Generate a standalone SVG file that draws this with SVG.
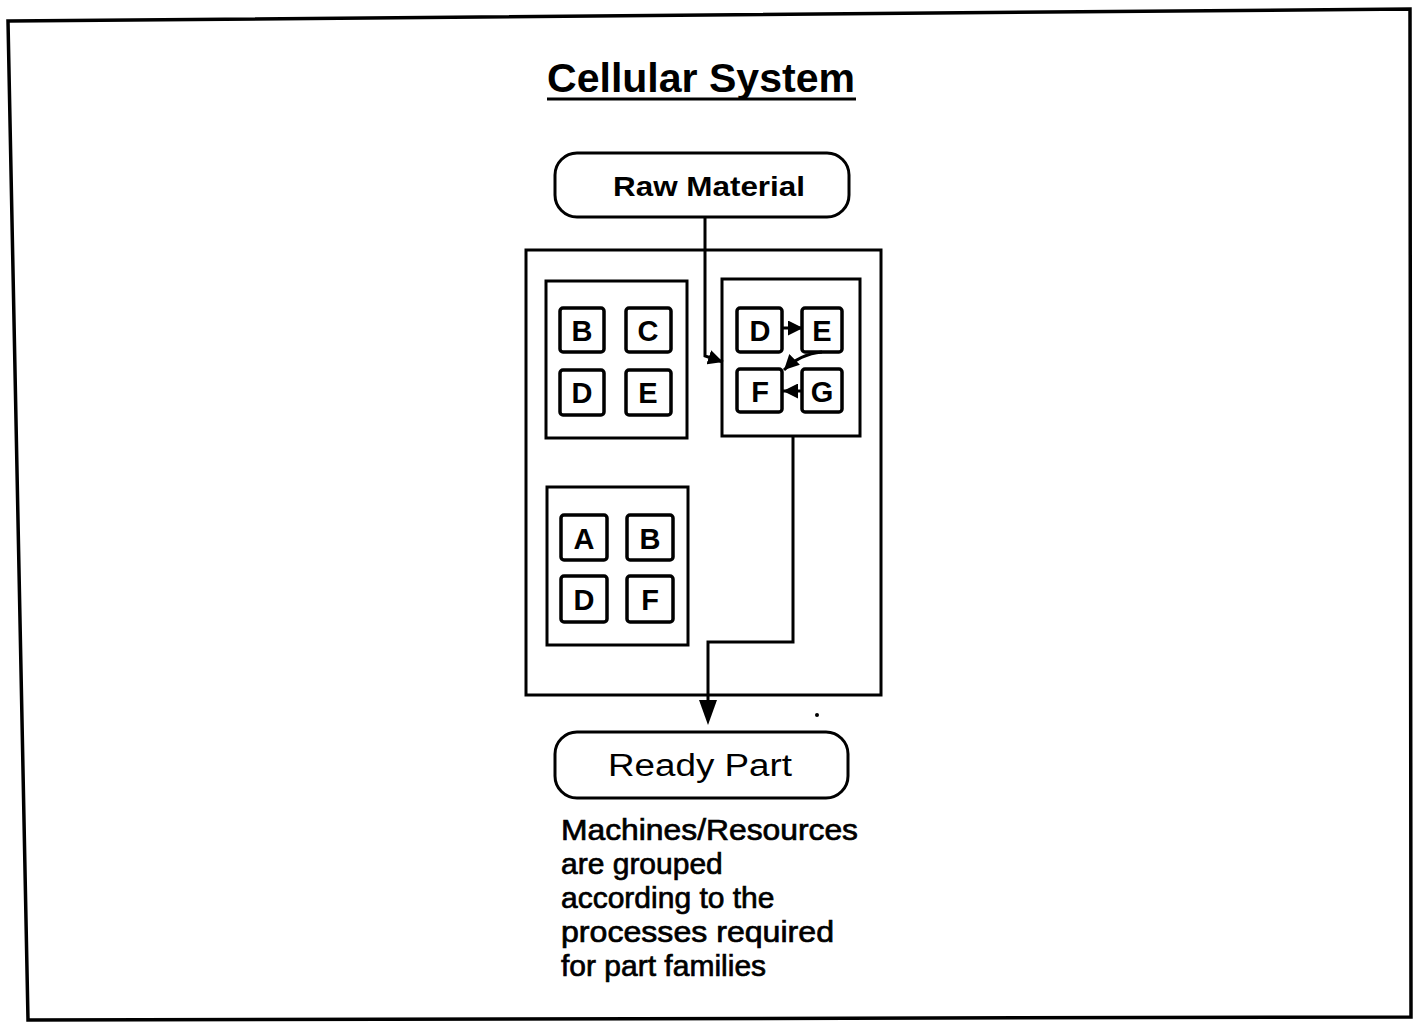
<svg xmlns="http://www.w3.org/2000/svg" width="1413" height="1022" viewBox="0 0 1413 1022">
<style>
.ln{fill:none;stroke:#000;stroke-width:3}
.cell{fill:#fff;stroke:#000;stroke-width:3}
.m{fill:#fff;stroke:#000;stroke-width:3.5}
.ml{font-family:"Liberation Sans",Arial,sans-serif;font-weight:bold;font-size:29px;text-anchor:middle;fill:#000}
.body{font-family:"Liberation Sans",Arial,sans-serif;font-size:30px;fill:#000;stroke:#000;stroke-width:0.7}
</style>
<defs>
<marker id="ah" viewBox="0 0 10 10" refX="10" refY="5" markerWidth="5" markerHeight="5" orient="auto" markerUnits="strokeWidth">
<path d="M0,0 L10,5 L0,10 z" fill="#000"/>
</marker>
</defs>
<rect width="1413" height="1022" fill="#fff"/>
<polygon points="8,21 1410,9 1411,1017 28,1020" fill="none" stroke="#000" stroke-width="3.5"/>
<g id="title">
<text x="701" y="92" font-family="Liberation Sans,Arial,sans-serif" font-weight="bold" font-size="40" text-anchor="middle" textLength="308" lengthAdjust="spacingAndGlyphs">Cellular System</text>
<line x1="547" y1="99" x2="856" y2="99" stroke="#000" stroke-width="3"/>
</g>
<g id="raw-material">
<rect x="555" y="153" width="294" height="64" rx="22" class="cell"/>
<text x="709" y="196" font-family="Liberation Sans,Arial,sans-serif" font-weight="bold" font-size="28" text-anchor="middle" textLength="192" lengthAdjust="spacingAndGlyphs">Raw Material</text>
</g>
<g id="shop">
<rect x="526" y="250" width="355" height="445" class="cell"/>
</g>
<g id="cell1">
<rect x="546" y="281" width="141" height="157" class="cell"/>
<rect x="560" y="308" width="44" height="44" rx="3" class="m"/><text x="582" y="341" class="ml">B</text>
<rect x="626" y="308" width="45" height="44" rx="3" class="m"/><text x="648" y="341" class="ml">C</text>
<rect x="560" y="370" width="44" height="45" rx="3" class="m"/><text x="582" y="403" class="ml">D</text>
<rect x="626" y="370" width="45" height="45" rx="3" class="m"/><text x="648" y="403" class="ml">E</text>
</g>
<g id="cell2">
<rect x="722" y="279" width="138" height="157" class="cell"/>
<rect x="737" y="308" width="45" height="44" rx="3" class="m"/><text x="760" y="341" class="ml">D</text>
<rect x="802" y="308" width="40" height="44" rx="3" class="m"/><text x="822" y="341" class="ml">E</text>
<rect x="737" y="369" width="45" height="43" rx="3" class="m"/><text x="760" y="402" class="ml">F</text>
<rect x="802" y="369" width="40" height="43" rx="3" class="m"/><text x="822" y="402" class="ml">G</text>
</g>
<g id="cell3">
<rect x="547" y="487" width="141" height="158" class="cell"/>
<rect x="561" y="515" width="46" height="45" rx="3" class="m"/><text x="584" y="549" class="ml">A</text>
<rect x="627" y="515" width="46" height="45" rx="3" class="m"/><text x="650" y="549" class="ml">B</text>
<rect x="561" y="576" width="46" height="46" rx="3" class="m"/><text x="584" y="610" class="ml">D</text>
<rect x="627" y="576" width="46" height="46" rx="3" class="m"/><text x="650" y="610" class="ml">F</text>
</g>
<g id="ready-part">
<rect x="555" y="732" width="293" height="66" rx="22" class="cell"/>
<text x="700" y="776" font-family="Liberation Sans,Arial,sans-serif" font-size="31" text-anchor="middle" textLength="184" lengthAdjust="spacingAndGlyphs">Ready Part</text>
</g>
<g id="connectors">
<polyline points="705,217 705,356 723,362" class="ln" marker-end="url(#ah)"/>
<line x1="783" y1="328" x2="803" y2="328" class="ln" marker-end="url(#ah)"/>
<path d="M822,352 Q800,354 784,370" class="ln" marker-end="url(#ah)"/>
<line x1="802" y1="391" x2="783" y2="391" class="ln" marker-end="url(#ah)"/>
<polyline points="793,436 793,642 708,642 708,700" class="ln"/>
<polygon points="699,700 717,700 708,725" fill="#000"/>
</g>
<circle cx="817" cy="715" r="2" fill="#000"/>
<g id="description">
<text x="561" y="840" class="body" textLength="297" lengthAdjust="spacingAndGlyphs">Machines/Resources</text>
<text x="561" y="874" class="body">are grouped</text>
<text x="561" y="908" class="body">according to the</text>
<text x="561" y="942" class="body" textLength="273" lengthAdjust="spacingAndGlyphs">processes required</text>
<text x="561" y="976" class="body">for part families</text>
</g>
</svg>
